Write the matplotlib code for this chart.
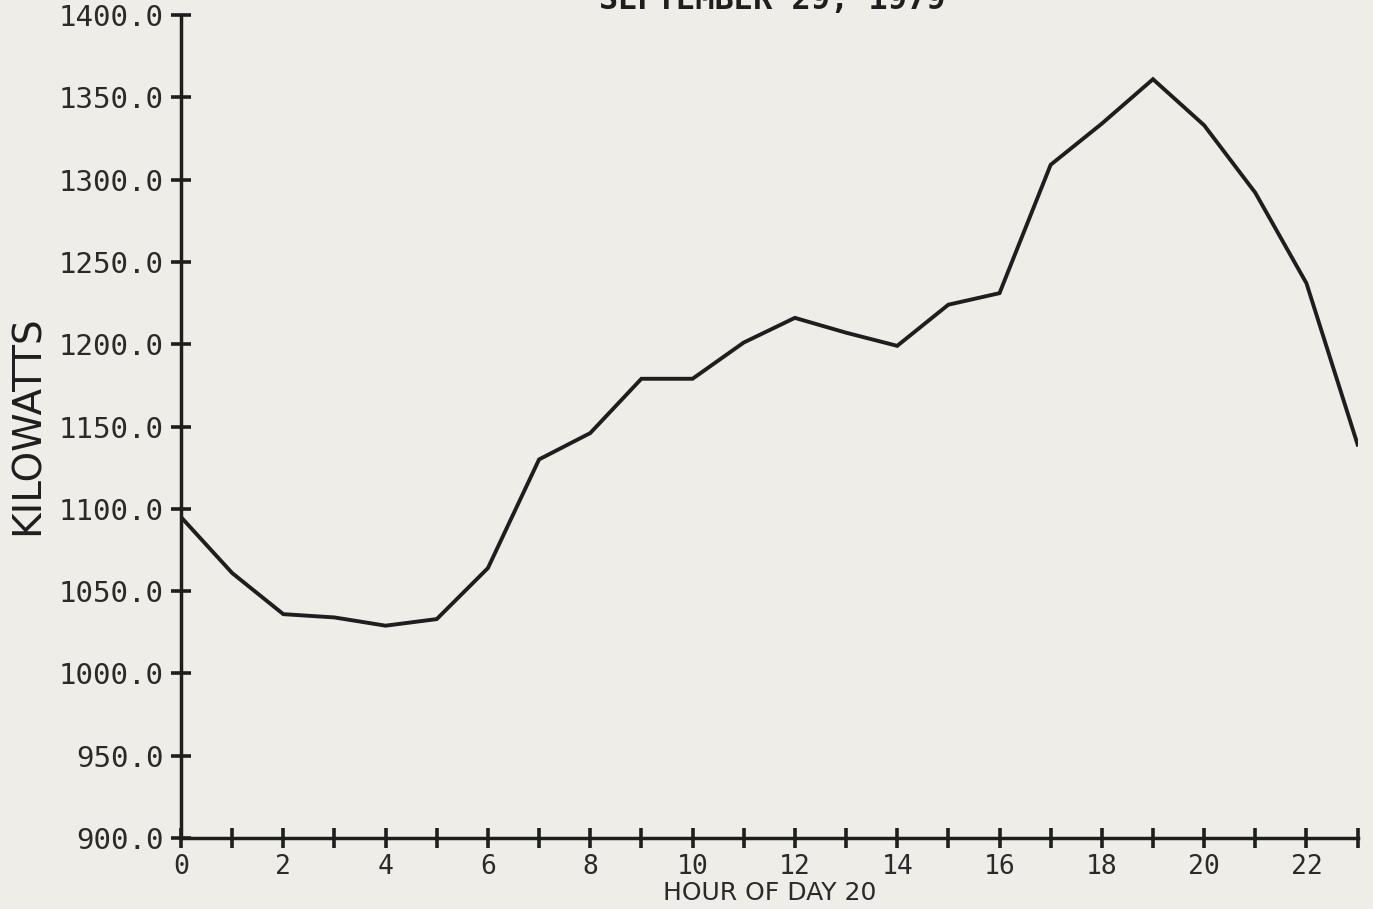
import matplotlib
matplotlib.use("Agg")
import matplotlib.pyplot as plt

hours = list(range(24))
kilowatts = [1095, 1061, 1036, 1034, 1029, 1033, 1064, 1130, 1146, 1179,
             1179, 1201, 1216, 1207, 1199, 1224, 1231, 1309, 1334, 1361,
             1333, 1292, 1237, 1139]
y_ticks = [900, 950, 1000, 1050, 1100, 1150, 1200, 1250, 1300, 1350, 1400]
y_tick_labels = ["%.1f" % v for v in y_ticks]
title = "SEPTEMBER 29, 1979"
xlabel = "HOUR OF DAY 20"
ylabel = "KILOWATTS"

bg = "#efede8"
ink = "#1e1e1e"
fig = plt.figure(figsize=(13.73, 9.09), dpi=100, facecolor=bg)
ax = fig.add_axes([0.1318, 0.0781, 0.857, 0.9054])
ax.set_facecolor(bg)

ax.plot(hours, kilowatts, color=ink, lw=2.8, solid_joinstyle="miter")

ax.set_xlim(0, 23)
ax.set_ylim(900, 1400)
ax.set_yticks(y_ticks)
ax.set_yticklabels(y_tick_labels)
ax.set_xticks(hours)
ax.set_xticklabels([str(h) if h % 2 == 0 else "" for h in hours])

for s in ["top", "right"]:
    ax.spines[s].set_visible(False)
for s in ["left", "bottom"]:
    ax.spines[s].set_linewidth(2.5)
    ax.spines[s].set_color(ink)

mono = "DejaVu Sans Mono"
ax.tick_params(axis="both", direction="inout", length=15, width=2.6, color=ink,
               labelcolor="#2a2a2a", labelsize=20)
ax.tick_params(axis="y", pad=5, labelsize=21)
ax.tick_params(axis="x", pad=4, labelsize=19)
for lab in ax.get_xticklabels() + ax.get_yticklabels():
    lab.set_family(mono)

ax.set_xlabel(xlabel, family="DejaVu Sans", fontsize=18, color="#2a2a2a", labelpad=1)
fig.text(0.0204, 0.5325, ylabel, rotation=90, ha="center", va="center",
         fontsize=28, color=ink, family="DejaVu Sans")
fig.text(0.5625, 0.999, title, ha="center", va="center", fontsize=23,
         color=ink, family=mono, fontweight="bold")

fig.savefig("out.png", dpi=100, facecolor=bg)
